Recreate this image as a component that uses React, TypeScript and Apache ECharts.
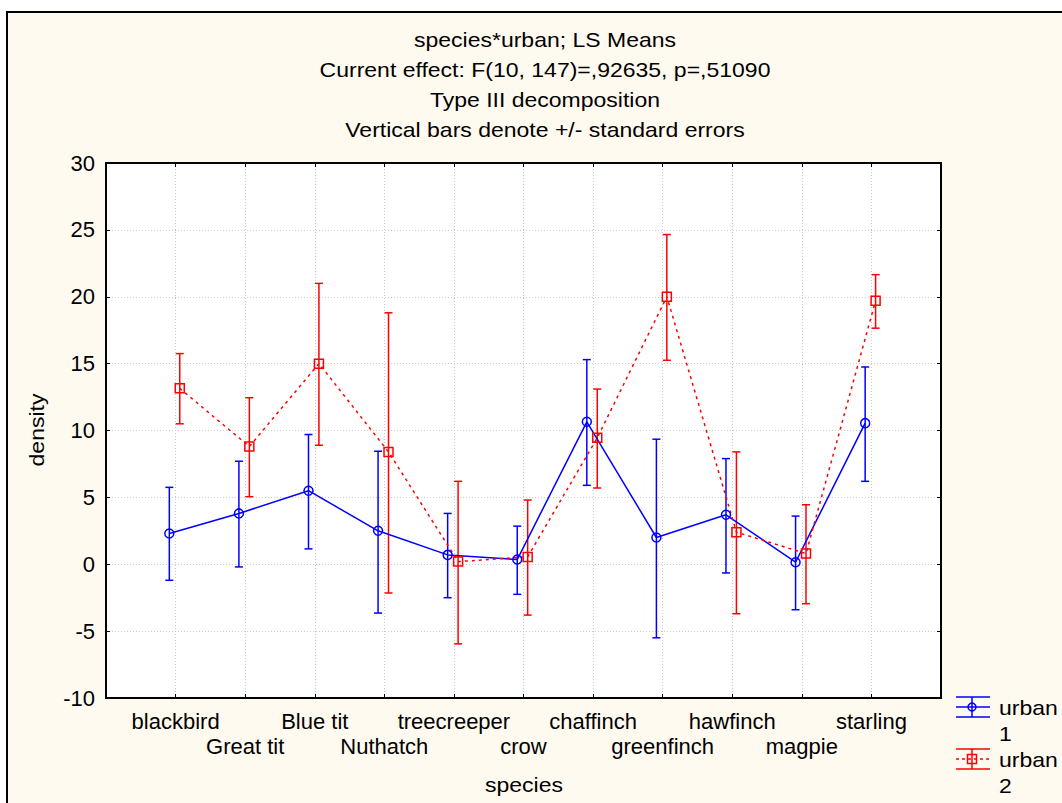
import React, { useEffect, useRef } from "react";
import * as echarts from "echarts";

const categories = [
  "blackbird", "Great tit", "Blue tit", "Nuthatch", "treecreeper", "crow",
  "chaffinch", "greenfinch", "hawfinch", "magpie", "starling",
];
const urban1Mean = [2.3, 3.8, 5.5, 2.5, 0.7, 0.35, 10.65, 2.0, 3.7, 0.15, 10.55];
const urban1Low = [-1.2, -0.2, 1.15, -3.65, -2.5, -2.25, 5.9, -5.5, -0.65, -3.4, 6.2];
const urban1High = [5.75, 7.7, 9.7, 8.45, 3.8, 2.85, 15.3, 9.35, 7.9, 3.6, 14.75];
const urban2Mean = [13.15, 8.8, 15.0, 8.4, 0.2, 0.55, 9.45, 20.0, 2.4, 0.8, 19.7];
const urban2Low = [10.5, 5.05, 8.9, -2.15, -5.95, -3.8, 5.7, 15.25, -3.7, -2.95, 17.65];
const urban2High = [15.75, 12.45, 21.0, 18.8, 6.2, 4.8, 13.1, 24.65, 8.4, 4.45, 21.65];
const yMin = -10;
const yMax = 30;
const yStep = 5;
const titleLines = [
  "species*urban; LS Means",
  "Current effect: F(10, 147)=,92635, p=,51090",
  "Type III decomposition",
  "Vertical bars denote +/- standard errors",
];
const xAxisTitle = "species";
const yAxisTitle = "density";
const legendNames = ["urban\n1", "urban\n2"];

const BLUE = "#0000ff";
const RED = "#ff0000";
const FONT = "'Liberation Sans', Arial, sans-serif";
const FS = 20;
const AFS = 22;
const SX = 1.15;

function errorBarRenderer(color: string) {
  return (params: any, api: any) => {
    const x = api.value(0);
    const lo = api.value(1);
    const hi = api.value(2);
    const pLo = api.coord([x, lo]);
    const pHi = api.coord([x, hi]);
    const w = 4;
    const st = { stroke: color, lineWidth: 1.5 };
    return {
      type: "group",
      children: [
        { type: "line", shape: { x1: pLo[0], y1: pLo[1], x2: pHi[0], y2: pHi[1] }, style: st },
        { type: "line", shape: { x1: pLo[0] - w, y1: pLo[1], x2: pLo[0] + w, y2: pLo[1] }, style: st },
        { type: "line", shape: { x1: pHi[0] - w, y1: pHi[1], x2: pHi[0] + w, y2: pHi[1] }, style: st },
      ],
    };
  };
}

export default function App() {
  const ref = useRef<HTMLDivElement>(null);
  useEffect(() => {
    if (!ref.current) return;
    const chart = echarts.init(ref.current, undefined, { renderer: "svg" });
    const off1 = -0.09;
    const off2 = 0.06;
    const n = categories.length;
    const axisCommon = {
      type: "value",
      min: 0,
      max: n + 1,
      interval: 1,
      axisLine: { show: true, onZero: false, lineStyle: { color: "#000", width: 2 } },
      axisTick: { show: true, inside: true, length: 4, lineStyle: { color: "#000", width: 1 } },
    };
    const yCommon = {
      type: "value",
      min: yMin,
      max: yMax,
      interval: yStep,
      axisLine: { show: true, onZero: false, lineStyle: { color: "#000", width: 2 } },
      axisTick: { show: true, inside: true, length: 4, lineStyle: { color: "#000", width: 1 } },
    };
    const gridLine = { show: true, lineStyle: { color: "#cccccc", type: [1, 2], width: 1 } };

    const graphic: any[] = [
      {
        type: "rect",
        shape: { x: 7, y: 12, width: 1100, height: 900 },
        style: { fill: "#fffaf0", stroke: "#000", lineWidth: 2 },
        z: -10,
        silent: true,
      },
    ];
    const txt = (t: string, x: number, y: number, align: string, extra: any = {}) => ({
      type: "text",
      x,
      y,
      scaleX: SX,
      ...extra,
      style: { text: t, font: `${FS}px ${FONT}`, fill: "#000", textAlign: align, textVerticalAlign: "middle" },
    });
    titleLines.forEach((t, i) => graphic.push(txt(t, 545, 40 + i * 30, "center")));
    graphic.push(txt(xAxisTitle, 524, 785, "center"));
    graphic.push(txt(yAxisTitle, 37, 430, "center", { rotation: Math.PI / 2 }));
    // legend
    const lx1 = 956, lx2 = 990, lcx = 972;
    const bst = { stroke: BLUE, lineWidth: 1.5 };
    const rst = { stroke: RED, lineWidth: 1.5 };
    graphic.push(
      { type: "line", shape: { x1: lx1, y1: 697, x2: lx2, y2: 697 }, style: bst },
      { type: "line", shape: { x1: lx1, y1: 707, x2: lx2, y2: 707 }, style: bst },
      { type: "line", shape: { x1: lx1, y1: 717, x2: lx2, y2: 717 }, style: bst },
      { type: "line", shape: { x1: lcx, y1: 697, x2: lcx, y2: 717 }, style: bst },
      { type: "circle", shape: { cx: lcx, cy: 707, r: 4 }, style: { stroke: BLUE, lineWidth: 1.5, fill: "none" } },
      { type: "line", shape: { x1: lx1, y1: 749, x2: lx2, y2: 749 }, style: rst },
      { type: "line", shape: { x1: lx1, y1: 759, x2: lx2, y2: 759 }, style: { stroke: RED, lineWidth: 1.5, lineDash: [3, 3] } },
      { type: "line", shape: { x1: lx1, y1: 769, x2: lx2, y2: 769 }, style: rst },
      { type: "line", shape: { x1: lcx, y1: 749, x2: lcx, y2: 769 }, style: rst },
      { type: "rect", shape: { x: lcx - 4.5, y: 754.5, width: 9, height: 9 }, style: { stroke: RED, lineWidth: 1.5, fill: "none" } },
    );
    legendNames.forEach((name, i) => {
      const [a, b] = name.split("\n");
      graphic.push(txt(a, 999, 708 + i * 52, "left"), txt(b, 999, 734 + i * 52, "left"));
    });

    const option: any = {
      animation: false,
      backgroundColor: "#ffffff",
      graphic,
      grid: {
        left: 106,
        top: 163,
        width: 835,
        height: 535,
        show: true,
        backgroundColor: "#ffffff",
        borderColor: "#000",
        borderWidth: 2,
        containLabel: false,
      },
      xAxis: [
        {
          ...axisCommon,
          position: "bottom",
          splitLine: gridLine,
          axisLabel: {
            show: true,
            margin: 11,
            fontSize: AFS,
            fontFamily: FONT,
            color: "#000",
            lineHeight: 25,
            showMinLabel: true,
            showMaxLabel: true,
            formatter: (v: number) => {
              const idx = Math.round(v) - 1;
              if (idx < 0 || idx >= n) return "";
              return idx % 2 === 0 ? categories[idx] : "\n" + categories[idx];
            },
          },
        },
        {
          ...axisCommon,
          position: "top",
          splitLine: { show: false },
          axisLabel: { show: false },
        },
      ],
      yAxis: [
        {
          ...yCommon,
          position: "left",
          splitLine: gridLine,
          axisLabel: { show: true, margin: 11, fontSize: AFS, fontFamily: FONT, color: "#000" },
        },
        {
          ...yCommon,
          position: "right",
          splitLine: { show: false },
          axisLabel: { show: false },
        },
      ],
      series: [
        {
          type: "custom",
          name: "urban 1 err",
          xAxisIndex: 0,
          yAxisIndex: 0,
          renderItem: errorBarRenderer(BLUE),
          encode: { x: 0, y: [1, 2] },
          data: categories.map((_, i) => [i + 1 + off1, urban1Low[i], urban1High[i]]),
          z: 2,
        },
        {
          type: "custom",
          name: "urban 2 err",
          xAxisIndex: 0,
          yAxisIndex: 0,
          renderItem: errorBarRenderer(RED),
          encode: { x: 0, y: [1, 2] },
          data: categories.map((_, i) => [i + 1 + off2, urban2Low[i], urban2High[i]]),
          z: 2,
        },
        {
          type: "line",
          name: "urban 1",
          xAxisIndex: 0,
          yAxisIndex: 0,
          data: categories.map((_, i) => [i + 1 + off1, urban1Mean[i]]),
          symbol: "circle",
          symbolSize: 9,
          lineStyle: { color: BLUE, width: 1.5 },
          itemStyle: { color: "rgba(0,0,0,0)", borderColor: BLUE, borderWidth: 1.5 },
          z: 3,
        },
        {
          type: "line",
          name: "urban 2",
          xAxisIndex: 0,
          yAxisIndex: 0,
          data: categories.map((_, i) => [i + 1 + off2, urban2Mean[i]]),
          symbol: "rect",
          symbolSize: 9,
          lineStyle: { color: RED, width: 1.5, type: [3, 4] },
          itemStyle: { color: "rgba(0,0,0,0)", borderColor: RED, borderWidth: 1.5 },
          z: 3,
        },
      ],
    };
    chart.setOption(option);
    return () => chart.dispose();
  }, []);
  return (
    <div
      ref={ref}
      style={{ position: "absolute", left: 0, top: 0, width: 1062, height: 803 }}
    />
  );
}
